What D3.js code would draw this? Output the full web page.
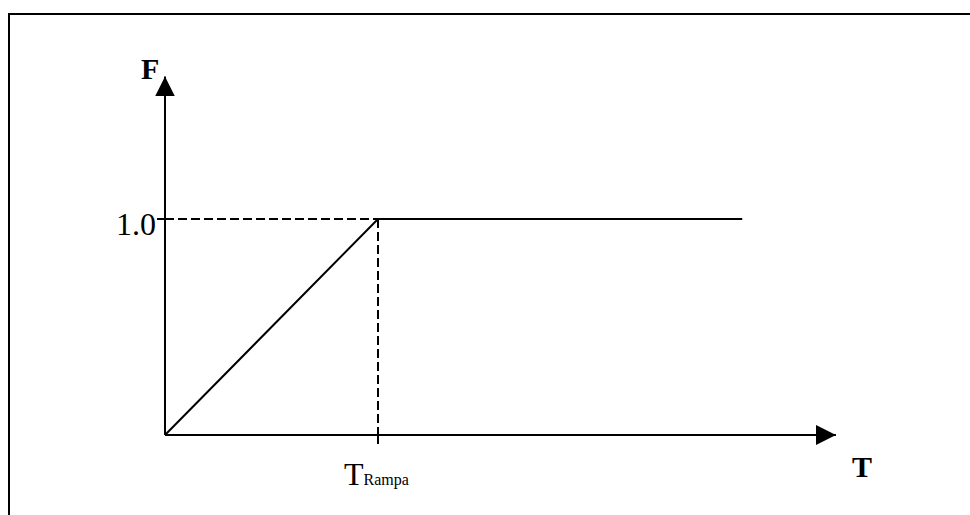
<!DOCTYPE html>
<html>
<head>
<meta charset="utf-8">
<script src="https://cdn.jsdelivr.net/npm/d3@7"></script>
<style>
  body { margin: 0; background: #fff; }
  text { font-family: "Liberation Serif", "Times New Roman", serif; fill: #000; }
</style>
</head>
<body>
<div id="chart"></div>
<script>
// data
const tValues = [0, 1, 2.71];   // T (ramp end at 1 = TRampa)
const fValues = [0, 1, 1];      // F
const tRamp = 1;
const fTick = 1;
const fTickLabel = "1.0";
const tMax = 3.15, fMax = 1.66;

const width = 970, height = 515;

const svg = d3.select("#chart")
  .append("svg")
  .attr("width", width)
  .attr("height", height);

// frame (top and left edges only visible)
svg.append("path")
  .attr("d", "M9,515 L9,14 L970,14")
  .attr("fill", "none")
  .attr("stroke", "#000")
  .attr("stroke-width", 2);

const x = d3.scaleLinear().domain([0, tRamp]).range([165, 378]);
const y = d3.scaleLinear().domain([0, fTick]).range([435, 219]);

// arrow markers
const defs = svg.append("defs");
defs.append("marker")
  .attr("id", "arrow")
  .attr("viewBox", "0 0 20 20")
  .attr("refX", 20).attr("refY", 10)
  .attr("markerWidth", 20).attr("markerHeight", 20)
  .attr("markerUnits", "userSpaceOnUse")
  .attr("orient", "auto")
  .append("path")
  .attr("d", "M0,0 L20,10 L0,20 Z")
  .attr("fill", "#000");

// axes
svg.append("line")
  .attr("x1", x(0)).attr("y1", y(0))
  .attr("x2", x(tMax)).attr("y2", y(0))
  .attr("stroke", "#000").attr("stroke-width", 2)
  .attr("marker-end", "url(#arrow)");

svg.append("line")
  .attr("x1", x(0)).attr("y1", y(0))
  .attr("x2", x(0)).attr("y2", y(fMax))
  .attr("stroke", "#000").attr("stroke-width", 2)
  .attr("marker-end", "url(#arrow)");

// ticks
svg.append("line")
  .attr("x1", x(0) - 8).attr("x2", x(0))
  .attr("y1", y(fTick)).attr("y2", y(fTick))
  .attr("stroke", "#000").attr("stroke-width", 2);

svg.append("line")
  .attr("x1", x(tRamp)).attr("x2", x(tRamp))
  .attr("y1", y(0)).attr("y2", y(0) + 9)
  .attr("stroke", "#000").attr("stroke-width", 2);

// dashed guides
svg.append("line")
  .attr("x1", x(0)).attr("x2", x(tRamp))
  .attr("y1", y(fTick)).attr("y2", y(fTick))
  .attr("stroke", "#000").attr("stroke-width", 2)
  .attr("stroke-dasharray", "9,4");

svg.append("line")
  .attr("x1", x(tRamp)).attr("x2", x(tRamp))
  .attr("y1", y(fTick)).attr("y2", y(0))
  .attr("stroke", "#000").attr("stroke-width", 2)
  .attr("stroke-dasharray", "9,4");

// ramp curve
const line = d3.line()
  .x((d, i) => x(tValues[i]))
  .y(d => y(d));

svg.append("path")
  .datum(fValues)
  .attr("d", line)
  .attr("fill", "none")
  .attr("stroke", "#000")
  .attr("stroke-width", 2);

// labels
svg.append("text")
  .attr("x", x(0) - 9).attr("y", y(fTick) + 16)
  .attr("text-anchor", "end")
  .attr("font-size", 32)
  .text(fTickLabel);

svg.append("text")
  .attr("x", 141).attr("y", 79)
  .attr("font-size", 30)
  .attr("font-weight", "bold")
  .text("F");

svg.append("text")
  .attr("x", 852).attr("y", 477)
  .attr("font-size", 30)
  .attr("font-weight", "bold")
  .text("T");

const tr = svg.append("text")
  .attr("x", 344).attr("y", 485)
  .attr("font-size", 32);
tr.append("tspan").text("T");
tr.append("tspan").attr("font-size", 16).text("Rampa");
</script>
</body>
</html>
